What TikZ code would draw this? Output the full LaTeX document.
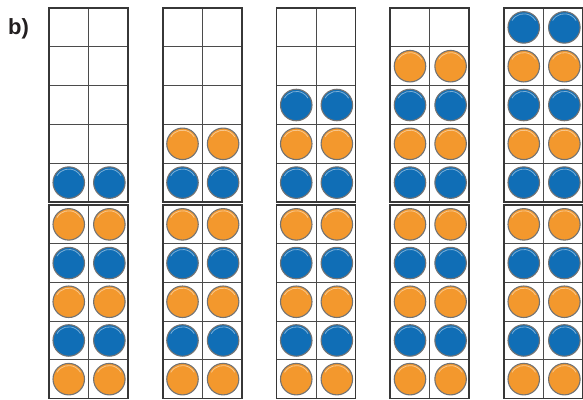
\documentclass[tikz,border=0pt]{standalone}
\usepackage{fontspec}
\setsansfont{Liberation Sans}
\usetikzlibrary{positioning}

\definecolor{chipblue}{RGB}{16,110,182}
\definecolor{chiporange}{RGB}{243,152,45}
\definecolor{rimgray}{RGB}{115,115,115}
\definecolor{framegray}{RGB}{55,55,55}
\definecolor{cellgray}{RGB}{75,75,75}
\definecolor{labelink}{RGB}{35,31,32}

\begin{document}
\begin{tikzpicture}[
        x=1pt, y=-1pt,
        font=\sffamily,
        frame/.style={draw=framegray, line width=1.7pt},
        cell/.style={draw=cellgray, line width=0.7pt},
        counter/.style={circle, minimum size=31.5pt, inner sep=0pt, draw=rimgray, line width=1.1pt,
            path picture={\draw [white, opacity=0.45, line width=0.8pt]
                ([shift={(150:13.6pt)}]path picture bounding box.center)
                arc [start angle=150, end angle=30, radius=13.6pt];}},
        bluechip/.style={counter, fill=chipblue},
        orangechip/.style={counter, fill=chiporange}
    ]
        \useasboundingbox (0,0) rectangle (583,399);

        % --- Part label ---
        \node (partlabel) [anchor=base west, inner sep=0pt, text=labelink,
            font=\sffamily\bfseries\fontsize{22}{24}\selectfont] at (8,34) {b)};

        % --- Ten frames, one column per step ---
        \foreach \c in {0,...,4} {
            \pgfmathsetmacro{\xl}{49+113.75*\c}
            \pgfmathsetmacro{\xm}{\xl+39.5}
            \pgfmathsetmacro{\xr}{\xl+79}
            % top frame
            \foreach \r in {1,...,4}
                \draw [cell] (\xl,{8+38.8*\r}) -- (\xr,{8+38.8*\r});
            \draw [cell] (\xm,8) -- (\xm,202);
            \draw [frame] (\xl,8) rectangle (\xr,202);
            % bottom frame
            \foreach \r in {1,...,4}
                \draw [cell] (\xl,{205+38.7*\r}) -- (\xr,{205+38.7*\r});
            \draw [cell] (\xm,205) -- (\xm,398.5);
            \draw [frame] (\xl,205) rectangle (\xr,398.5);
        }

        % --- Counters in the top frames ---
        \foreach \c in {0,...,4} {
            \foreach \r in {1,...,5} {
                \pgfmathtruncatemacro{\shown}{\r>=5-\c ? 1 : 0}
                \pgfmathtruncatemacro{\odd}{mod(\r,2)}
                \ifnum\shown=1
                    \ifnum\odd=1 \def\chip{bluechip}\else \def\chip{orangechip}\fi
                    \node (top\c r\r a) [\chip] at ({49+113.75*\c+19.75},{8+38.8*(\r-0.5)}) {};
                    \node (top\c r\r b) [\chip, right=8pt of top\c r\r a] {};
                \fi
            }
        }

        % --- Counters in the bottom frames ---
        \foreach \c in {0,...,4} {
            \foreach \r in {1,...,5} {
                \pgfmathtruncatemacro{\odd}{mod(\r,2)}
                \ifnum\odd=1 \def\chip{orangechip}\else \def\chip{bluechip}\fi
                \node (bot\c r\r a) [\chip] at ({49+113.75*\c+19.75},{205+38.7*(\r-0.5)}) {};
                \node (bot\c r\r b) [\chip, right=8pt of bot\c r\r a] {};
            }
        }

    \end{tikzpicture}
\end{document}
